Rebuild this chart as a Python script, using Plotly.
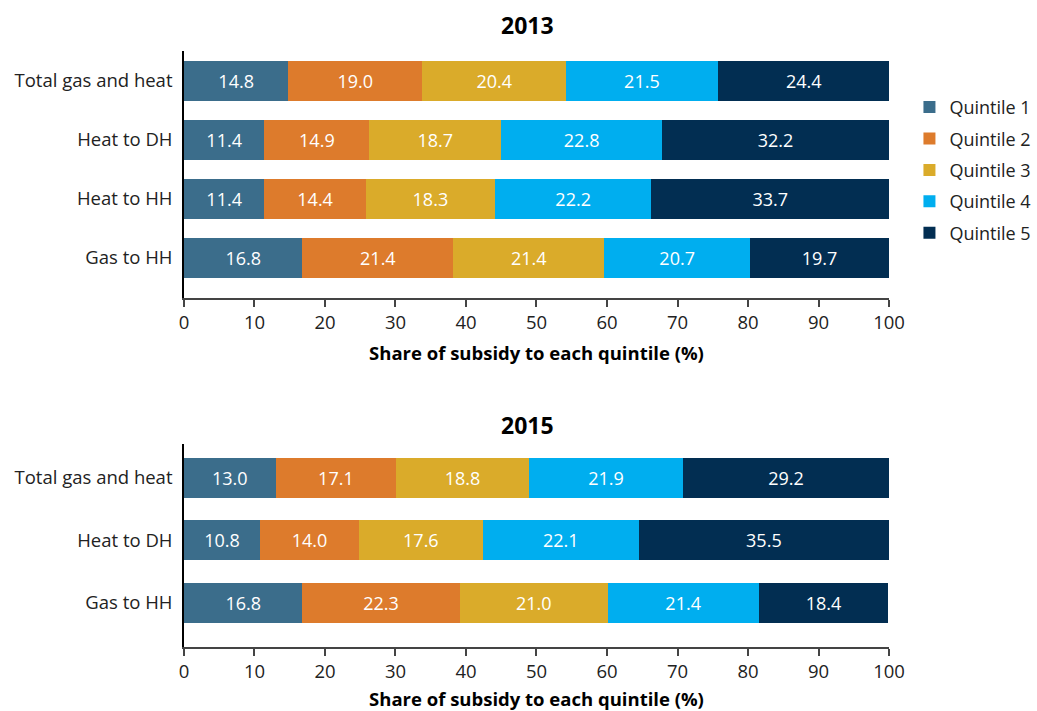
import plotly.graph_objects as go

# Subsidy shares by income quintile (%)
categories_2013 = ["Total gas and heat", "Heat to DH", "Heat to HH", "Gas to HH"]
categories_2015 = ["Total gas and heat", "Heat to DH", "Gas to HH"]
quintiles = ["Quintile 1", "Quintile 2", "Quintile 3", "Quintile 4", "Quintile 5"]

q1_2013 = [14.8, 11.4, 11.4, 16.8]
q2_2013 = [19.0, 14.9, 14.4, 21.4]
q3_2013 = [20.4, 18.7, 18.3, 21.4]
q4_2013 = [21.5, 22.8, 22.2, 20.7]
q5_2013 = [24.4, 32.2, 33.7, 19.7]

q1_2015 = [13.0, 10.8, 16.8]
q2_2015 = [17.1, 14.0, 22.3]
q3_2015 = [18.8, 17.6, 21.0]
q4_2015 = [21.9, 22.1, 21.4]
q5_2015 = [29.2, 35.5, 18.4]

x_ticks = [0, 10, 20, 30, 40, 50, 60, 70, 80, 90, 100]

colors = ["#3b6d8b", "#dd7b2c", "#daab2a", "#00aeef", "#022e52"]
FONT = "Open Sans"

series_2013 = [q1_2013, q2_2013, q3_2013, q4_2013, q5_2013]
series_2015 = [q1_2015, q2_2015, q3_2015, q4_2015, q5_2015]

fig = go.Figure()

for name, vals, col in zip(quintiles, series_2013, colors):
    fig.add_trace(go.Bar(
        x=vals, y=categories_2013, orientation="h", name=name,
        marker=dict(color=col, line=dict(width=0)), width=0.68,
        text=[f"{v:.1f}" for v in vals], textposition="inside",
        insidetextanchor="middle", textangle=0, constraintext="none",
        textfont=dict(color="white", size=18, family=FONT),
        xaxis="x", yaxis="y", legendgroup=name, showlegend=True,
        hoverinfo="skip",
    ))

for name, vals, col in zip(quintiles, series_2015, colors):
    fig.add_trace(go.Bar(
        x=vals, y=categories_2015, orientation="h", name=name,
        marker=dict(color=col, line=dict(width=0)), width=0.64,
        text=[f"{v:.1f}" for v in vals], textposition="inside",
        insidetextanchor="middle", textangle=0, constraintext="none",
        textfont=dict(color="white", size=18, family=FONT),
        xaxis="x2", yaxis="y2", legendgroup=name, showlegend=False,
        hoverinfo="skip",
    ))

xaxis_common = dict(
    range=[0, 100], tickvals=x_ticks, ticks="outside", ticklen=7,
    tickcolor="#444", tickwidth=1.5, showline=True, linecolor="#444",
    linewidth=1.5, showgrid=False, zeroline=False,
    tickfont=dict(size=18.5, color="#222", family=FONT),
    domain=[0.1774, 0.8573],
)
yaxis_common = dict(
    showline=True, linecolor="black", linewidth=1.5, ticks="",
    showgrid=False, zeroline=False, ticklabelstandoff=6,
    tickfont=dict(size=18.5, color="#222", family=FONT),
)

axis_title = dict(text="<b>Share of subsidy to each quintile (%)</b>",
                  font=dict(size=18.5, color="black", family=FONT), standoff=14)

fig.update_layout(
    width=1037, height=711,
    margin=dict(l=0, r=0, t=0, b=0, autoexpand=False),
    paper_bgcolor="white", plot_bgcolor="white",
    barmode="stack",
    font=dict(family=FONT, color="#222"),
    xaxis=dict(**xaxis_common, anchor="y", title=axis_title),
    yaxis=dict(**yaxis_common, anchor="x", domain=[0.5809, 0.9283],
               categoryorder="array", categoryarray=categories_2013,
               range=[3.678, -0.508]),
    xaxis2=dict(**xaxis_common, anchor="y2", title=axis_title),
    yaxis2=dict(**yaxis_common, anchor="x2", domain=[0.0900, 0.3755],
                categoryorder="array", categoryarray=categories_2015,
                range=[2.712, -0.536]),
    legend=dict(x=0.877, y=0.875, xanchor="left", yanchor="top",
                font=dict(size=18, color="#222", family=FONT),
                traceorder="grouped", tracegroupgap=5, itemwidth=30,
                bgcolor="rgba(0,0,0,0)"),
    annotations=[
        dict(text="<b>2013</b>", x=527 / 1037, y=1 - 25 / 711, xref="paper",
             yref="paper", showarrow=False, xanchor="center", yanchor="middle",
             font=dict(size=23, color="black", family=FONT)),
        dict(text="<b>2015</b>", x=527 / 1037, y=1 - 425 / 711, xref="paper",
             yref="paper", showarrow=False, xanchor="center", yanchor="middle",
             font=dict(size=23, color="black", family=FONT)),
    ],
)

fig.write_html("out.html")
